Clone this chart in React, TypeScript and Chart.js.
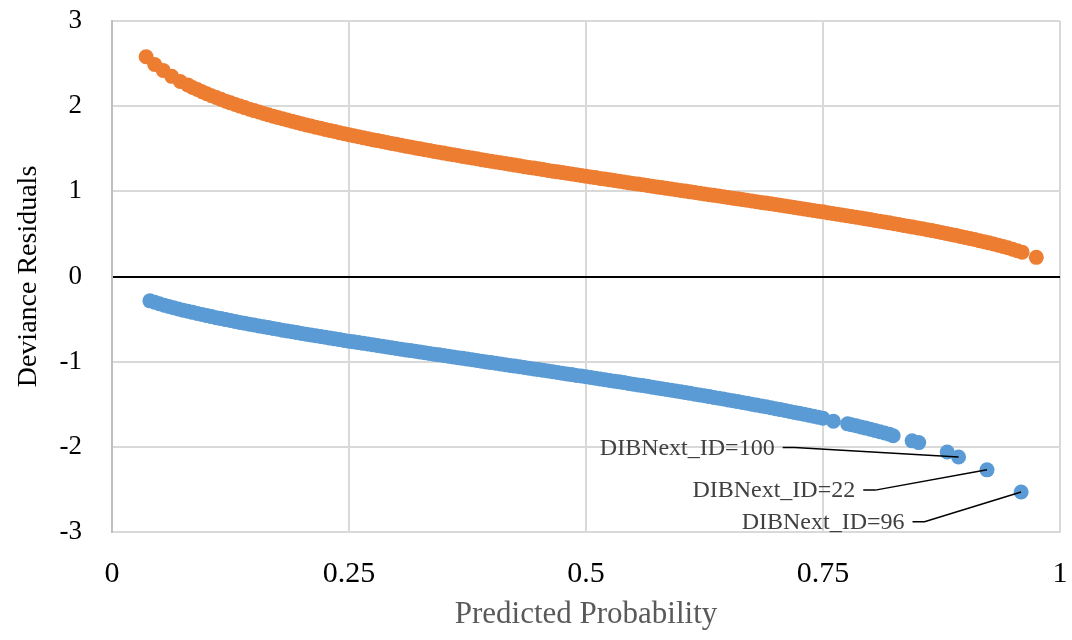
import { useEffect, useRef } from 'react';
import { Chart, registerables } from 'chart.js';

Chart.register(...registerables);

const xTickValues = [0, 0.25, 0.5, 0.75, 1];
const xTickLabels = ['0', '0.25', '0.5', '0.75', '1'];
const yTickValues = [-3, -2, -1, 0, 1, 2, 3];
const yTickLabels = ['-3', '-2', '-1', '0', '1', '2', '3'];

const orangeX = [
  0.036, 0.045, 0.054, 0.063, 0.072, 0.08, 0.085, 0.09, 0.095, 0.1,
  0.105, 0.11, 0.115, 0.12, 0.125, 0.13, 0.135, 0.14, 0.145, 0.15,
  0.155, 0.16, 0.165, 0.17, 0.175, 0.18, 0.185, 0.19, 0.195, 0.2,
  0.205, 0.21, 0.215, 0.22, 0.225, 0.23, 0.235, 0.24, 0.245, 0.25,
  0.255, 0.26, 0.265, 0.27, 0.275, 0.28, 0.285, 0.29, 0.295, 0.3,
  0.305, 0.31, 0.315, 0.32, 0.325, 0.33, 0.335, 0.34, 0.345, 0.35,
  0.355, 0.36, 0.365, 0.37, 0.375, 0.38, 0.385, 0.39, 0.395, 0.4,
  0.405, 0.41, 0.415, 0.42, 0.425, 0.43, 0.435, 0.44, 0.445, 0.45,
  0.455, 0.46, 0.465, 0.47, 0.475, 0.48, 0.485, 0.49, 0.495, 0.5,
  0.505, 0.51, 0.515, 0.52, 0.525, 0.53, 0.535, 0.54, 0.545, 0.55,
  0.555, 0.56, 0.565, 0.57, 0.575, 0.58, 0.585, 0.59, 0.595, 0.6,
  0.605, 0.61, 0.615, 0.62, 0.625, 0.63, 0.635, 0.64, 0.645, 0.65,
  0.655, 0.66, 0.665, 0.67, 0.675, 0.68, 0.685, 0.69, 0.695, 0.7,
  0.705, 0.71, 0.715, 0.72, 0.725, 0.73, 0.735, 0.74, 0.745, 0.75,
  0.755, 0.76, 0.765, 0.77, 0.775, 0.78, 0.785, 0.79, 0.795, 0.8,
  0.805, 0.81, 0.815, 0.82, 0.825, 0.83, 0.835, 0.84, 0.845, 0.85,
  0.855, 0.86, 0.865, 0.87, 0.875, 0.88, 0.885, 0.89, 0.895, 0.9,
  0.905, 0.91, 0.915, 0.92, 0.925, 0.93, 0.935, 0.94, 0.945, 0.95,
  0.955, 0.96, 0.975,
];
const orangeY = [
  2.58, 2.49, 2.42, 2.35, 2.29, 2.25, 2.22, 2.195, 2.17, 2.146,
  2.123, 2.101, 2.08, 2.059, 2.039, 2.02, 2.001, 1.983, 1.965, 1.948,
  1.931, 1.914, 1.898, 1.883, 1.867, 1.852, 1.837, 1.823, 1.808, 1.794,
  1.78, 1.767, 1.753, 1.74, 1.727, 1.714, 1.702, 1.689, 1.677, 1.665,
  1.653, 1.641, 1.63, 1.618, 1.607, 1.596, 1.585, 1.573, 1.563, 1.552,
  1.541, 1.53, 1.52, 1.51, 1.499, 1.489, 1.479, 1.469, 1.459, 1.449,
  1.439, 1.429, 1.42, 1.41, 1.401, 1.391, 1.382, 1.372, 1.363, 1.354,
  1.345, 1.335, 1.326, 1.317, 1.308, 1.299, 1.29, 1.281, 1.273, 1.264,
  1.255, 1.246, 1.237, 1.229, 1.22, 1.212, 1.203, 1.194, 1.186, 1.177,
  1.169, 1.161, 1.152, 1.144, 1.135, 1.127, 1.119, 1.11, 1.102, 1.093,
  1.085, 1.077, 1.069, 1.06, 1.052, 1.044, 1.035, 1.027, 1.019, 1.011,
  1.003, 0.994, 0.986, 0.978, 0.97, 0.961, 0.953, 0.945, 0.937, 0.928,
  0.92, 0.912, 0.903, 0.895, 0.887, 0.878, 0.87, 0.862, 0.853, 0.845,
  0.836, 0.828, 0.819, 0.811, 0.802, 0.793, 0.785, 0.776, 0.767, 0.759,
  0.75, 0.741, 0.732, 0.723, 0.714, 0.705, 0.696, 0.687, 0.677, 0.668,
  0.659, 0.649, 0.64, 0.63, 0.62, 0.61, 0.6, 0.59, 0.58, 0.57,
  0.56, 0.549, 0.539, 0.528, 0.517, 0.506, 0.494, 0.483, 0.471, 0.459,
  0.447, 0.434, 0.421, 0.408, 0.395, 0.381, 0.367, 0.352, 0.337, 0.32,
  0.303, 0.286, 0.225,
];

const blueX = [
  0.04, 0.045, 0.05, 0.055, 0.06, 0.065, 0.07, 0.075, 0.08, 0.085,
  0.09, 0.095, 0.1, 0.105, 0.11, 0.115, 0.12, 0.125, 0.13, 0.135,
  0.14, 0.145, 0.15, 0.155, 0.16, 0.165, 0.17, 0.175, 0.18, 0.185,
  0.19, 0.195, 0.2, 0.205, 0.21, 0.215, 0.22, 0.225, 0.23, 0.235,
  0.24, 0.245, 0.25, 0.255, 0.26, 0.265, 0.27, 0.275, 0.28, 0.285,
  0.29, 0.295, 0.3, 0.305, 0.31, 0.315, 0.32, 0.325, 0.33, 0.335,
  0.34, 0.345, 0.35, 0.355, 0.36, 0.365, 0.37, 0.375, 0.38, 0.385,
  0.39, 0.395, 0.4, 0.405, 0.41, 0.415, 0.42, 0.425, 0.43, 0.435,
  0.44, 0.445, 0.45, 0.455, 0.46, 0.465, 0.47, 0.475, 0.48, 0.485,
  0.49, 0.495, 0.5, 0.505, 0.51, 0.515, 0.52, 0.525, 0.53, 0.535,
  0.54, 0.545, 0.55, 0.555, 0.56, 0.565, 0.57, 0.575, 0.58, 0.585,
  0.59, 0.595, 0.6, 0.605, 0.61, 0.615, 0.62, 0.625, 0.63, 0.635,
  0.64, 0.645, 0.65, 0.655, 0.66, 0.665, 0.67, 0.675, 0.68, 0.685,
  0.69, 0.695, 0.7, 0.705, 0.71, 0.715, 0.72, 0.725, 0.73, 0.735,
  0.74, 0.745, 0.75, 0.761, 0.776, 0.78, 0.785, 0.79, 0.795, 0.8,
  0.805, 0.81, 0.815, 0.82, 0.824, 0.844, 0.851, 0.881, 0.893, 0.923,
  0.959,
];
const blueY = [
  -0.286, -0.303, -0.32, -0.337, -0.352, -0.367, -0.381, -0.395, -0.408, -0.421,
  -0.434, -0.447, -0.459, -0.471, -0.483, -0.494, -0.506, -0.517, -0.528, -0.539,
  -0.549, -0.56, -0.57, -0.58, -0.59, -0.6, -0.61, -0.62, -0.63, -0.64,
  -0.649, -0.659, -0.668, -0.677, -0.687, -0.696, -0.705, -0.714, -0.723, -0.732,
  -0.741, -0.75, -0.759, -0.767, -0.776, -0.785, -0.793, -0.802, -0.811, -0.819,
  -0.828, -0.836, -0.845, -0.853, -0.862, -0.87, -0.878, -0.887, -0.895, -0.903,
  -0.912, -0.92, -0.928, -0.937, -0.945, -0.953, -0.961, -0.97, -0.978, -0.986,
  -0.994, -1.003, -1.011, -1.019, -1.027, -1.035, -1.044, -1.052, -1.06, -1.069,
  -1.077, -1.085, -1.093, -1.102, -1.11, -1.119, -1.127, -1.135, -1.144, -1.152,
  -1.161, -1.169, -1.177, -1.186, -1.194, -1.203, -1.212, -1.22, -1.229, -1.237,
  -1.246, -1.255, -1.264, -1.273, -1.281, -1.29, -1.299, -1.308, -1.317, -1.326,
  -1.335, -1.345, -1.354, -1.363, -1.372, -1.382, -1.391, -1.401, -1.41, -1.42,
  -1.429, -1.439, -1.449, -1.459, -1.469, -1.479, -1.489, -1.499, -1.51, -1.52,
  -1.53, -1.541, -1.552, -1.563, -1.573, -1.585, -1.596, -1.607, -1.618, -1.63,
  -1.641, -1.653, -1.665, -1.7, -1.73, -1.74, -1.753, -1.767, -1.78, -1.794,
  -1.808, -1.823, -1.837, -1.852, -1.87, -1.93, -1.95, -2.06, -2.12, -2.27,
  -2.53,
];

const annotationLabels = ['DIBNext_ID=100', 'DIBNext_ID=22', 'DIBNext_ID=96'];
const annotationPointX = [0.893, 0.923, 0.959];
const annotationLabelX = [0.699, 0.784, 0.836];
const annotationLabelY = [-2.02, -2.52, -2.89];

const SERIF = '"Liberation Serif", "Times New Roman", serif';

const leaderPlugin = {
  id: 'leaders',
  afterDatasetsDraw(chart: any) {
    const { ctx, scales } = chart;
    const xs = scales.x;
    const ys = scales.y;
    ctx.save();
    ctx.font = `24px ${SERIF}`;
    ctx.fillStyle = '#404040';
    ctx.textAlign = 'right';
    ctx.textBaseline = 'middle';
    ctx.strokeStyle = '#000000';
    ctx.lineWidth = 1.5;
    annotationLabels.forEach((label, i) => {
      const lx = xs.getPixelForValue(annotationLabelX[i]);
      const ly = ys.getPixelForValue(annotationLabelY[i]);
      ctx.fillText(label, lx, ly);
      const idx = blueX.indexOf(annotationPointX[i]);
      const px = xs.getPixelForValue(blueX[idx]);
      const py = ys.getPixelForValue(blueY[idx]);
      ctx.beginPath();
      ctx.moveTo(lx + 8, ly - 1);
      ctx.lineTo(lx + 20, ly - 1);
      ctx.lineTo(px, py);
      ctx.stroke();
    });
    ctx.restore();
  },
};

export default function App() {
  const canvasRef = useRef<HTMLCanvasElement | null>(null);

  useEffect(() => {
    if (!canvasRef.current) return;
    const chart = new Chart(canvasRef.current, {
      type: 'scatter',
      data: {
        datasets: [
          {
            label: 'Y=1',
            data: orangeX.map((x, i) => ({ x, y: orangeY[i] })),
            backgroundColor: '#ED7D31',
            borderWidth: 0,
            pointRadius: 7.5,
            pointHoverRadius: 7.5,
          },
          {
            label: 'Y=0',
            data: blueX.map((x, i) => ({ x, y: blueY[i] })),
            backgroundColor: '#5B9BD5',
            borderWidth: 0,
            pointRadius: 7.5,
            pointHoverRadius: 7.5,
          },
        ],
      },
      options: {
        animation: false,
        responsive: true,
        maintainAspectRatio: false,
        layout: { padding: { top: 21, right: 12, left: 0, bottom: 0 } },
        plugins: {
          legend: { display: false },
          tooltip: { enabled: false },
        },
        scales: {
          x: {
            type: 'linear',
            min: 0,
            max: 1,
            afterBuildTicks: (scale: any) => {
              scale.ticks = xTickValues.map((v) => ({ value: v }));
            },
            afterFit: (scale: any) => {
              scale.height = 108;
            },
            ticks: {
              autoSkip: false,
              maxRotation: 0,
              padding: 0,
              color: '#000000',
              font: { family: SERIF, size: 30 },
              callback: (v: any) => xTickLabels[xTickValues.indexOf(Number(v))],
            },
            grid: {
              color: '#d9d9d9',
              lineWidth: 2,
              drawTicks: true,
              tickLength: 24,
              tickColor: 'rgba(0,0,0,0)',
            },
            border: { color: '#d9d9d9', width: 2 },
            title: {
              display: true,
              text: 'Predicted Probability',
              color: '#595959',
              font: { family: SERIF, size: 31 },
              padding: { top: 0, bottom: 7 },
            },
          },
          y: {
            type: 'linear',
            min: -3,
            max: 3,
            afterBuildTicks: (scale: any) => {
              scale.ticks = yTickValues.map((v) => ({ value: v }));
            },
            afterFit: (scale: any) => {
              scale.width = 112;
            },
            ticks: {
              autoSkip: false,
              padding: 0,
              color: '#000000',
              font: { family: SERIF, size: 27 },
              callback: (v: any) => yTickLabels[yTickValues.indexOf(Number(v))],
            },
            grid: {
              color: (c: any) => (c.tick && c.tick.value === 0 ? '#000000' : '#d9d9d9'),
              lineWidth: 2,
              drawTicks: true,
              tickLength: 30,
              tickColor: 'rgba(0,0,0,0)',
            },
            border: { color: '#bfbfbf', width: 2 },
            title: {
              display: true,
              text: 'Deviance Residuals',
              color: '#000000',
              font: { family: SERIF, size: 28 },
              padding: { top: 12, bottom: 0 },
            },
          },
        },
      },
      plugins: [leaderPlugin],
    });
    return () => chart.destroy();
  }, []);

  return (
    <div style={{ position: 'absolute', left: 0, top: 0, width: 1072, height: 640 }}>
      <canvas ref={canvasRef} />
    </div>
  );
}
